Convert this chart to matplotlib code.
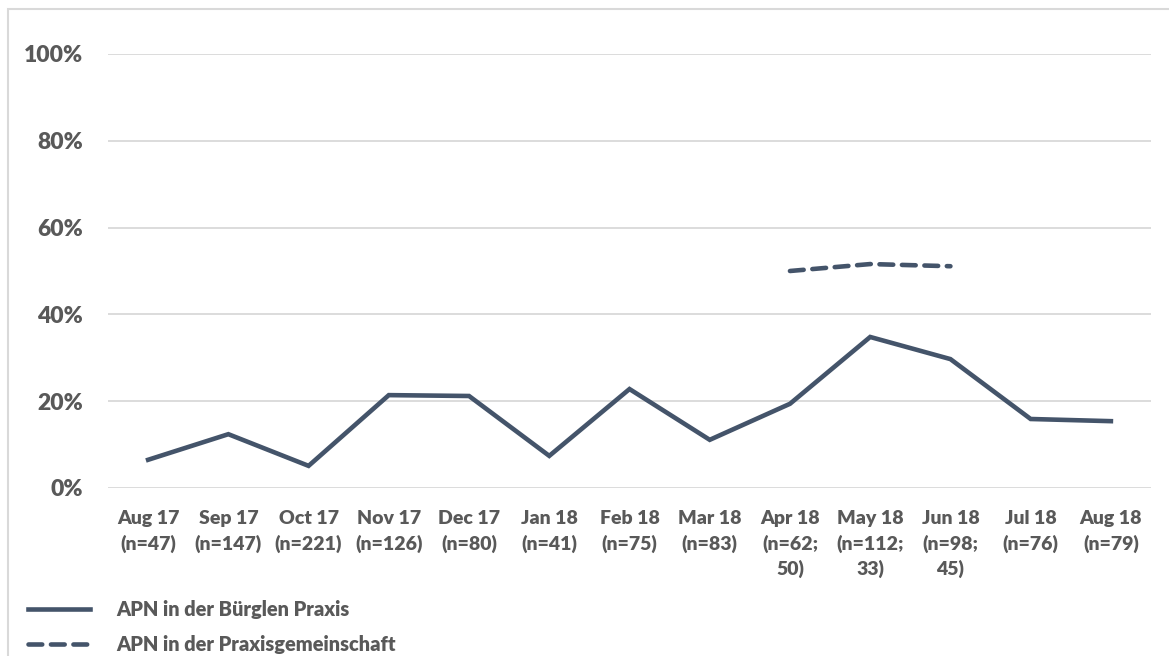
import matplotlib.pyplot as plt
from matplotlib.patches import Rectangle
from matplotlib.ticker import PercentFormatter

# Monthly share of APN
months = ["Aug 17", "Sep 17", "Oct 17", "Nov 17", "Dec 17", "Jan 18", "Feb 18",
          "Mar 18", "Apr 18", "May 18", "Jun 18", "Jul 18", "Aug 18"]
sample_sizes = ["(n=47)", "(n=147)", "(n=221)", "(n=126)", "(n=80)", "(n=41)", "(n=75)",
                "(n=83)", "(n=62;\n50)", "(n=112;\n33)", "(n=98;\n45)", "(n=76)", "(n=79)"]
buerglen = [6.5, 12.4, 5.1, 21.4, 21.2, 7.4, 22.8, 11.1, 19.4, 34.8, 29.7, 15.9, 15.4]
gemeinschaft_months = ["Apr 18", "May 18", "Jun 18"]
gemeinschaft = [50.0, 51.6, 51.1]

line_color = "#44546a"
text_color = "#595959"
grid_color = "#d9d9d9"
weight = "heavy"

plt.rcParams["font.family"] = ["Lato", "DejaVu Sans"]
plt.rcParams["font.weight"] = weight

fig = plt.figure(figsize=(11.69, 6.56), dpi=100)
ax = fig.add_axes([108 / 1169, 1 - 488 / 656, (1151 - 108) / 1169, (488 - 54) / 656])

x = list(range(len(months)))
gx = [months.index(m) for m in gemeinschaft_months]
ax.plot(x, buerglen, color=line_color, lw=3.3, solid_joinstyle="miter",
        label="APN in der Bürglen Praxis")
ax.plot(gx, gemeinschaft, color=line_color, lw=3.3, ls=(0, (3.0, 1.9)),
        dash_capstyle="round", label="APN in der Praxisgemeinschaft")

ax.set_xlim(-0.5, len(months) - 0.5)
ax.set_ylim(0, 100)
ax.set_yticks([0, 20, 40, 60, 80, 100])
ax.yaxis.set_major_formatter(PercentFormatter(decimals=0))
ax.set_xticks(x)
ax.set_xticklabels([f"{m}\n{n}" for m, n in zip(months, sample_sizes)],
                   va="top", linespacing=1.47)
ax.tick_params(axis="both", length=0, colors=text_color)
ax.tick_params(axis="y", labelsize=16.5, pad=18)
ax.tick_params(axis="x", labelsize=14, pad=16)
for lbl in ax.get_xticklabels() + ax.get_yticklabels():
    lbl.set_fontweight(weight)

ax.grid(axis="y", color=grid_color, lw=1.3)
ax.set_axisbelow(True)
for s in ax.spines.values():
    s.set_visible(False)

leg = fig.legend(loc="upper left", bbox_to_anchor=(20 / 1169, 1 - 592 / 656),
                 frameon=False, handlelength=3.1, handletextpad=1.3,
                 labelspacing=0.8, fontsize=14.4, borderaxespad=0)
for t in leg.get_texts():
    t.set_color(text_color)
    t.set_fontweight(weight)

# light frame around the chart area
fig.patches.append(Rectangle((8 / 1169, -0.1), 1.2, 0.1 + 1 - 9 / 656,
                             transform=fig.transFigure, fill=False,
                             edgecolor=grid_color, lw=1.5))

fig.savefig("out.png", dpi=100)
